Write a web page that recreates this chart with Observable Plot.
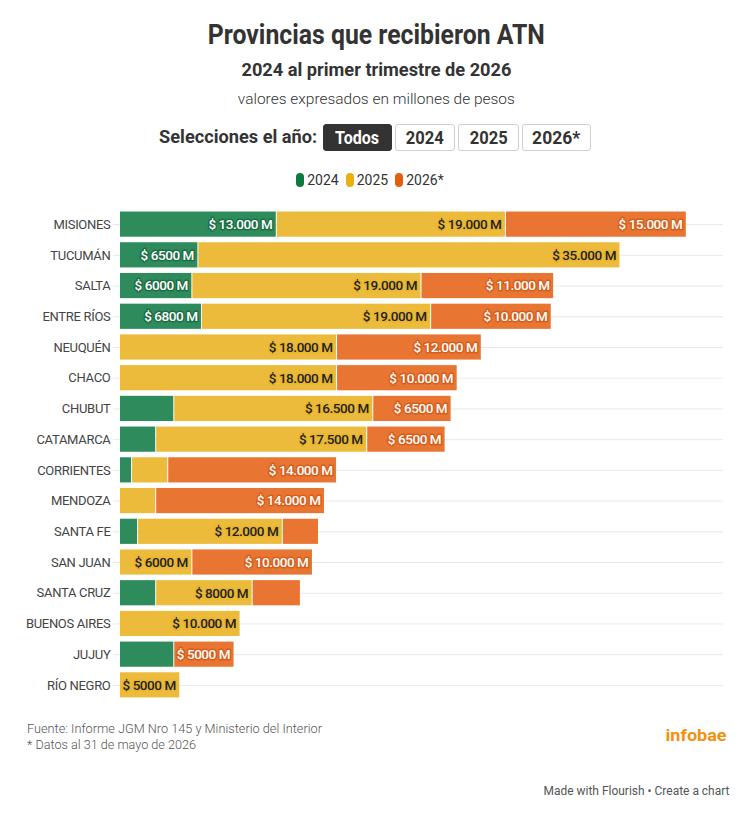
<!DOCTYPE html>
<html>
<head>
<meta charset="utf-8">
<script src="https://cdn.jsdelivr.net/npm/d3@7"></script>
<script src="https://cdn.jsdelivr.net/npm/@observablehq/plot@0.6"></script>
<style>
  html, body { margin: 0; padding: 0; background: #fff; }
  body { font-family: Roboto, "Noto Sans", sans-serif; color: #333; }
  #root { position: relative; width: 753px; height: 815px; overflow: hidden; }
  .abs { position: absolute; white-space: nowrap; line-height: 1; }
  .center { left: 0; width: 753px; text-align: center; }
  .fit { display: inline-block; }
  .btn { position: absolute; box-sizing: border-box; border: 1px solid #d0d0d0; border-radius: 3px;
         background: #fff; display: flex; align-items: center; justify-content: center;
         font-weight: 700; font-size: 19px; color: #333; line-height: 1; }
  .btn.on { background: #333; border-color: #333; color: #fff; }
  #legend { position: absolute; left: 0; width: 740px; top: 172px; display: flex; justify-content: center; gap: 7px; }
  .li { display: flex; align-items: center; gap: 3px; font-size: 14px; color: #333; height: 15px; }
  .sw { width: 8px; height: 14px; border-radius: 4px; display: inline-block; }
  #chart { position: absolute; left: 0; top: 200px; }
</style>
</head>
<body>
<div id="root">
  <div class="abs center" style="top:21px;font-size:28px;font-weight:700;"><span class="fit" data-w="337" data-o="center">Provincias que recibieron ATN</span></div>
  <div class="abs center" style="top:61px;font-size:18px;font-weight:700;"><span class="fit" data-w="270" data-o="center">2024 al primer trimestre de 2026</span></div>
  <div class="abs center" style="top:92px;font-size:15px;font-weight:300;"><span class="fit" data-w="277" data-o="center">valores expresados en millones de pesos</span></div>
  <div class="abs" style="top:127px;right:436px;font-size:19px;font-weight:700;text-align:right;"><span class="fit" data-w="158" data-o="right">Selecciones el año:</span></div>
  <div id="buttons"></div>
  <div id="legend"></div>
  <div id="chart"></div>
  <div class="abs" style="top:722px;left:27px;font-size:13px;color:#555;font-weight:300;"><span class="fit" data-w="295" data-o="left">Fuente: Informe JGM Nro 145 y Ministerio del Interior</span></div>
  <div class="abs" style="top:738px;left:27px;font-size:13px;color:#555;font-weight:300;"><span class="fit" data-w="169" data-o="left">* Datos al 31 de mayo de 2026</span></div>
  <div class="abs" style="top:727px;right:26px;font-size:17px;color:#f29111;font-weight:700;"><span class="fit" data-w="61" data-o="right">infobae</span></div>
  <div class="abs" style="top:785px;right:24px;font-size:12px;color:#555;"><span class="fit" data-w="186" data-o="right">Made with Flourish • Create a chart</span></div>
</div>
<script>
// ---- data ----
const provincias = ["MISIONES","TUCUMÁN","SALTA","ENTRE RÍOS","NEUQUÉN","CHACO","CHUBUT","CATAMARCA","CORRIENTES","MENDOZA","SANTA FE","SAN JUAN","SANTA CRUZ","BUENOS AIRES","JUJUY","RÍO NEGRO"];
const years = ["2024","2025","2026*"];
const v2024 = [13000,6500,6000,6800,0,0,4500,3000,1000,0,1500,0,3000,0,4500,0];
const v2025 = [19000,35000,19000,19000,18000,18000,16500,17500,3000,3000,12000,6000,8000,10000,0,5000];
const v2026 = [15000,0,11000,10000,12000,10000,6500,6500,14000,14000,3000,10000,4000,0,5000,0];
const buttonLabels = ["Todos","2024","2025","2026*"];

// ---- styles ----
const barColors = ["#2e8b5b","#ecbb3c","#e87532"];
const swatchColors = ["#0c7a3e","#e8b10f","#e35e0e"];
const labelFill = ["#ffffff","#222222","#ffffff"];
const labelHalo = ["#1d6e45","#e9b52c","#d65e1b"];

const series = [v2024, v2025, v2026];
const rows = [];
provincias.forEach((p, i) => years.forEach((y, j) => {
  const v = series[j][i];
  if (v > 0) rows.push({prov: p, year: y, value: v});
}));

const fmt = v => v >= 10000 ? "$ " + d3.format(",")(v).replace(/,/g, ".") + " M" : "$ " + v + " M";

// buttons
const btnGeom = [[323, 69, 44], [395, 60, 38], [458, 61, 38], [522, 69, 48]];
const bdiv = document.getElementById("buttons");
buttonLabels.forEach((t, i) => {
  const b = document.createElement("div");
  b.className = "btn" + (i === 0 ? " on" : "");
  b.style.left = btnGeom[i][0] + "px";
  b.style.width = btnGeom[i][1] + "px";
  b.style.top = "124px";
  b.style.height = "27px";
  b.innerHTML = `<span class="fit" data-w="${btnGeom[i][2]}" data-o="center">${t}</span>`;
  bdiv.appendChild(b);
});

// legend
const leg = document.getElementById("legend");
years.forEach((y, i) => {
  const it = document.createElement("div");
  it.className = "li";
  it.innerHTML = `<span class="sw" style="background:${swatchColors[i]}"></span><span>${y}</span>`;
  leg.appendChild(it);
});

const textMarks = years.map((yr, j) =>
  Plot.text(rows, Plot.stackX2({
    x: "value", y: "prov", z: "year",
    text: d => (d.year === yr && d.value >= 5000) ? fmt(d.value) : "",
    textAnchor: "end", dx: -5,
    fill: labelFill[j], stroke: labelHalo[j], strokeWidth: 3,
    paintOrder: "stroke", strokeLinejoin: "round",
    fontSize: 13.5, fontWeight: 500
  }))
);

const chart = Plot.plot({
  width: 753,
  height: 513,
  marginLeft: 120,
  marginRight: 30,
  marginTop: 6,
  marginBottom: 10,
  style: {fontFamily: "Roboto, sans-serif", background: "transparent", overflow: "visible"},
  x: {domain: [0, 50000], axis: null},
  y: {domain: provincias, padding: 0.18, round: false, label: null},
  color: {domain: years, range: barColors},
  marks: [
    Plot.gridY({stroke: "#e8e8e8", strokeOpacity: 1}),
    Plot.axisY({tickSize: 7, tickPadding: 3, stroke: "#e8e8e8", fill: "#444", fontSize: 13, label: null}),
    Plot.barX(rows, Plot.stackX({x: "value", y: "prov", fill: "year", insetRight: 1})),
    ...textMarks
  ]
});
document.getElementById("chart").appendChild(chart);
d3.select(chart).selectAll("g[aria-label='y-axis tick label'] text").style("letter-spacing", "-0.3px");
d3.select(chart).selectAll("g[aria-label='text'] text").style("letter-spacing", "-0.45px");

function fitAll() {
  document.querySelectorAll(".fit").forEach(el => {
    el.style.transform = "none";
    const w = el.getBoundingClientRect().width;
    const t = +el.dataset.w;
    if (w > 0) {
      el.style.transformOrigin = el.dataset.o + " center";
      el.style.transform = `scaleX(${t / w})`;
    }
  });
}
fitAll();
if (document.fonts && document.fonts.ready) document.fonts.ready.then(fitAll);
</script>
</body>
</html>
